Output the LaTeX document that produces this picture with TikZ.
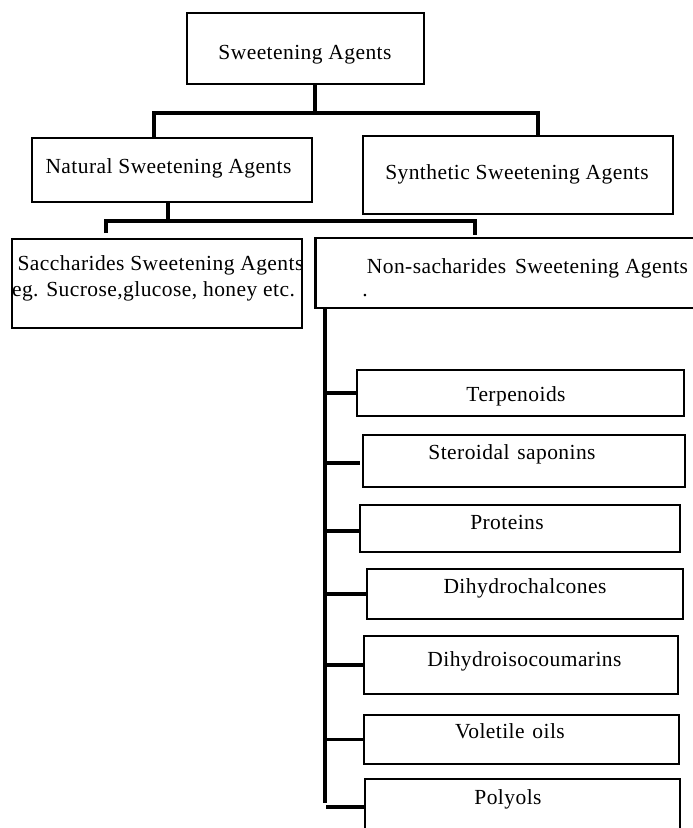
\documentclass[tikz,border=0pt]{standalone}
\usepackage{fontspec}
\setmainfont{Liberation Serif}[LetterSpace=2.0]
\usetikzlibrary{calc}
\begin{document}
\begin{tikzpicture}[x=1pt,y=-1pt,
  boxnode/.style={draw=black,line width=2.3pt,rectangle,inner sep=0pt,outer sep=0pt,fill=none},
  txt/.style={anchor=base,inner sep=0pt,font=\fontsize{21.5}{27}\selectfont},
  conn/.style={draw=black,line width=3.2pt,line join=miter}]
\useasboundingbox[fill=white] (0,0) rectangle (693,828);
% boxes
\node[boxnode,minimum width=237pt,minimum height=71pt] (top) at (305.5,48.5) {};
\node[boxnode,minimum width=280pt,minimum height=64pt] (nat) at (172,170) {};
\node[boxnode,minimum width=310pt,minimum height=78pt] (syn) at (518,175) {};
\node[boxnode,minimum width=290pt,minimum height=89pt] (sac) at (157,283.5) {};
\node[boxnode,minimum width=389.5pt,minimum height=70pt] (non) at (510.25,273) {};
\node[boxnode,minimum width=327pt,minimum height=46pt] (ter) at (520.5,393) {};
\node[boxnode,minimum width=322pt,minimum height=52pt] (ste) at (524,461) {};
\node[boxnode,minimum width=320pt,minimum height=47pt] (pro) at (520,528.5) {};
\node[boxnode,minimum width=316pt,minimum height=50pt] (dic) at (525,594) {};
\node[boxnode,minimum width=314pt,minimum height=58pt] (dii) at (521,665) {};
\node[boxnode,minimum width=315pt,minimum height=49pt] (vol) at (521.5,739.5) {};
\node[boxnode,minimum width=315pt,minimum height=71pt] (pol) at (522.5,814.5) {};
% texts
\node[txt] (top-t) at (305,59.3) {Sweetening Agents};
\node[txt] (nat-t) at (168.5,173.3) {Natural Sweetening Agents};
\node[txt] (syn-t) at (517,179.3) {Synthetic Sweetening Agents};
\node[txt] (sac-t1) at (160.5,270) {Saccharides Sweetening Agents};
\node[txt] (sac-t2) at (153.5,296.7) {eg. Sucrose,glucose, honey etc.};
\node[txt] (non-t) at (527.5,273.3) {Non-sacharides\hspace{3pt} Sweetening Agents};
\node[txt] (non-dot) at (365,296.7) {.};
\node[txt] (ter-t) at (516,401) {Terpenoids};
\node[txt] (ste-t) at (512,459) {Steroidal\hspace{2pt} saponins};
\node[txt] (pro-t) at (507,529) {Proteins};
\node[txt] (dic-t) at (525,593.3) {Dihydrochalcones};
\node[txt] (dii-t) at (524.5,666) {Dihydroisocoumarins};
\node[txt] (vol-t) at (510,738.3) {Voletile\hspace{2pt} oils};
\node[txt] (pol-t) at (508,804) {Polyols};
% connectors level 1
\coordinate (j1) at (315,113);
\coordinate (b1l) at (154,113);
\coordinate (b1r) at (538,113);
\draw[conn] (top.south -| j1) -- (j1);
\draw[conn] (nat.north -| b1l) -- (b1l) -- (b1r) -- (syn.north -| b1r);
% connectors level 2
\coordinate (j2) at (168,221);
\coordinate (b2l) at (106,221);
\coordinate (b2r) at (475,221);
\draw[conn] (nat.south -| j2) -- (j2);
\draw[conn] ($(sac.north -| b2l)+(0,-6)$) -- (b2l) -- (b2r) -- ($(non.north -| b2r)+(0,-3)$);
% trunk
\coordinate (trunk) at (325,803);
\draw[conn] (non.south -| trunk) -- (trunk);
\draw[conn] (trunk |- ter.west) -- (ter.west);
\draw[conn] ($(trunk |- ste.west)+(0,2)$) -- ($(ste.west)+(-3,2)$);
\draw[conn] ($(trunk |- pro.west)+(0,2.5)$) -- ($(pro.west)+(0,2.5)$);
\draw[conn] (trunk |- dic.west) -- (dic.west);
\draw[conn] (trunk |- dii.west) -- (dii.west);
\draw[conn] (trunk |- vol.west) -- (vol.west);
\coordinate (polt) at (326,807);
\draw[conn] (polt) -- (pol.west |- polt);
\end{tikzpicture}
\end{document}
